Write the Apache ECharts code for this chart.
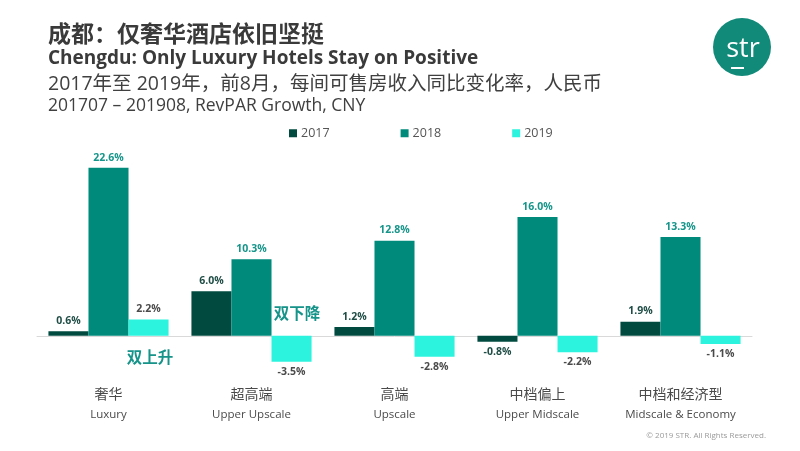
<!DOCTYPE html>
<html>
<head>
<meta charset="utf-8">
<script src="https://cdn.jsdelivr.net/npm/echarts@6/dist/echarts.min.js"></script>
<style>html,body{margin:0;padding:0;background:#fff;}#c{width:800px;height:451px;}</style>
</head>
<body>
<div id="c"></div>
<script>
const categoriesCN = ['奢华', '超高端', '高端', '中档偏上', '中档和经济型'];
const categoriesEN = ['Luxury', 'Upper Upscale', 'Upscale', 'Upper Midscale', 'Midscale & Economy'];
const seriesNames = ['2017', '2018', '2019'];
const values2017 = [0.6, 6.0, 1.2, -0.8, 1.9];
const values2018 = [22.6, 10.3, 12.8, 16.0, 13.3];
const values2019 = [2.2, -3.5, -2.8, -2.2, -1.1];

const FONT = '"Open Sans", "Noto Sans CJK SC", sans-serif';
const barColors = ['#004a3f', '#008a7b', '#2cf3dd'];
const labelColors = ['#1f4d45', '#16958a', '#4a4a4a'];
const allValues = [values2017, values2018, values2019];

const chart = echarts.init(document.getElementById('c'));

const series = allValues.map((vals, i) => ({
  name: seriesNames[i],
  type: 'bar',
  barGap: '0%',
  barCategoryGap: '16%',
  itemStyle: { color: barColors[i] },
  data: vals.map(v => ({
    value: v,
    label: {
      show: true,
      position: v >= 0 ? 'top' : 'bottom',
      distance: 5,
      formatter: p => p.value.toFixed(1) + '%',
      color: labelColors[i],
      fontFamily: FONT,
      fontWeight: 'bold',
      fontSize: 10.5
    }
  }))
}));

chart.setOption({
  animation: false,
  backgroundColor: '#ffffff',
  textStyle: { fontFamily: FONT },
  title: [
    { text: '成都：仅奢华酒店依旧坚挺', left: 43, top: 17,
      textStyle: { fontFamily: '"Noto Sans CJK SC", sans-serif', fontSize: 23, fontWeight: 'bold', color: '#3a3a3a' } },
    { text: 'Chengdu: Only Luxury Hotels Stay on Positive', left: 43, top: 44,
      textStyle: { fontFamily: FONT, fontSize: 19, fontWeight: 'bold', color: '#3a3a3a' } },
    { text: '2017年至 2019年，前8月，每间可售房收入同比变化率，人民币', left: 43, top: 70,
      textStyle: { fontFamily: FONT, fontSize: 19.5, fontWeight: 'normal', color: '#404040' } },
    { text: '201707 – 201908, RevPAR Growth, CNY', left: 43, top: 92,
      textStyle: { fontFamily: FONT, fontSize: 17.5, fontWeight: 'normal', color: '#404040' } }
  ],
  legend: {
    data: seriesNames,
    left: 284,
    top: 122,
    icon: 'rect',
    itemWidth: 8,
    itemHeight: 8,
    itemGap: 71,
    textStyle: { fontFamily: FONT, fontSize: 12.5, color: '#555555', padding: [0, 0, 0, -1] }
  },
  grid: { left: 37, right: 48, top: 150, height: 223, containLabel: false, outerBoundsMode: 'none' },
  xAxis: {
    type: 'category',
    data: categoriesCN.map((c, i) => c + '\n' + categoriesEN[i]),
    axisLine: { onZero: true, lineStyle: { color: '#d9d9d9', width: 1 } },
    axisTick: { show: false },
    axisLabel: {
      margin: 10,
      interval: 0,
      formatter: v => {
        const parts = v.split('\n');
        return '{cn|' + parts[0] + '}\n{en|' + parts[1] + '}';
      },
      rich: {
        cn: { fontFamily: '"Noto Sans CJK SC", sans-serif', fontSize: 14, color: '#4a4a4a', lineHeight: 21 },
        en: { fontFamily: FONT, fontSize: 11.5, color: '#4a4a4a', lineHeight: 21 }
      }
    }
  },
  yAxis: {
    type: 'value',
    min: -5,
    max: 25,
    show: false,
    splitLine: { show: false }
  },
  series: series,
  graphic: [
    { type: 'circle', shape: { cx: 742, cy: 47, r: 29 }, style: { fill: '#118a79' } },
    { type: 'text', x: 743, y: 49, style: { text: 'str', fill: '#ffffff', fontFamily: FONT, fontSize: 27, fontWeight: 'normal', align: 'center', verticalAlign: 'middle' } },
    { type: 'rect', shape: { x: 731, y: 67, width: 13, height: 2 }, style: { fill: '#ffffff' } },
    { type: 'text', x: 150, y: 357, style: { text: '双上升', fill: '#17948a', fontFamily: '"Noto Sans CJK SC", sans-serif', fontSize: 15.5, fontWeight: 'bold', align: 'center', verticalAlign: 'middle' } },
    { type: 'text', x: 297, y: 313, style: { text: '双下降', fill: '#17948a', fontFamily: '"Noto Sans CJK SC", sans-serif', fontSize: 15.5, fontWeight: 'bold', align: 'center', verticalAlign: 'middle' } },
    { type: 'text', x: 766, y: 436, style: { text: '© 2019 STR. All Rights Reserved.', fill: '#9a9a9a', fontFamily: FONT, fontSize: 8, align: 'right', verticalAlign: 'middle' } }
  ]
});
</script>
</body>
</html>
